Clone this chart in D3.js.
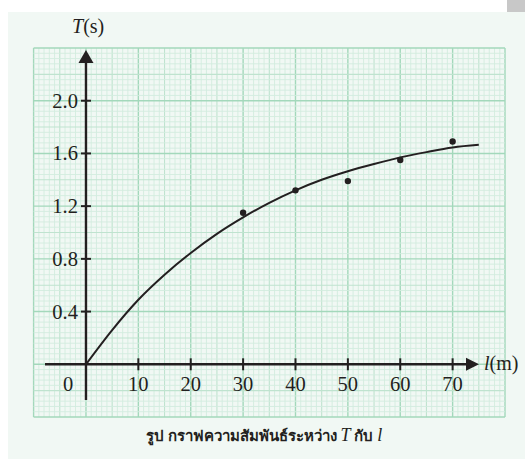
<!DOCTYPE html>
<html>
<head>
<meta charset="utf-8">
<script src="https://cdn.jsdelivr.net/npm/d3@7"></script>
<style>
  html, body { margin: 0; padding: 0; background: #fff; }
  svg { display: block; }
  .serif { font-family: 'Liberation Serif', 'Times New Roman', 'DejaVu Serif', serif; }
  .thai { font-family: 'Noto Sans', 'DejaVu Sans', sans-serif; }
</style>
</head>
<body>
<div id="chart"></div>
<script>
// measured points (l in m, T in s)
const lVals = [30, 40, 50, 60, 70];
const tVals = [1.15, 1.32, 1.39, 1.55, 1.69];

// hand drawn best fit curve
const curveL = [0, 5, 10, 15, 20, 25, 30, 35, 40, 45, 50, 55, 60, 65, 70, 75];
const curveT = [0, 0.26, 0.49, 0.68, 0.845, 0.99, 1.115, 1.225, 1.32, 1.40, 1.465, 1.52, 1.57, 1.61, 1.645, 1.665];

const xTicks = [10, 20, 30, 40, 50, 60, 70];
const yTicks = [0.4, 0.8, 1.2, 1.6, 2.0];

const width = 525, height = 459;
const ink = '#231f20';

const svg = d3.select('#chart').append('svg')
  .attr('width', width)
  .attr('height', height);

// panel
svg.append('rect')
  .attr('x', 8).attr('y', 12)
  .attr('width', width - 8).attr('height', height - 12)
  .attr('fill', '#f1f8f4');
svg.append('rect')
  .attr('x', 507).attr('y', 0)
  .attr('width', 18).attr('height', 12)
  .attr('fill', '#c8c8c8');

const x = d3.scaleLinear().domain([-10, 80]).range([33.6, 505]);
const y = d3.scaleLinear().domain([-0.4, 2.4]).range([417, 48]);

// graph paper
const grid = svg.append('g');
const xs = d3.range(-10, 80.001, 1);
const ys = d3.range(0, 71).map(i => -0.4 + i * 0.04);

function lineStyle(i) {
  if (i % 10 === 0) return ['#a3d8bb', 1.4];
  if (i % 5 === 0) return ['#bfe3cf', 1.1];
  return ['#d3ecdf', 0.9];
}

grid.selectAll('line.v')
  .data(xs)
  .enter().append('line')
    .attr('x1', d => x(d)).attr('x2', d => x(d))
    .attr('y1', y(-0.4)).attr('y2', y(2.4))
    .attr('stroke', (d, i) => lineStyle(i)[0])
    .attr('stroke-width', (d, i) => lineStyle(i)[1]);

grid.selectAll('line.h')
  .data(ys)
  .enter().append('line')
    .attr('y1', d => y(d)).attr('y2', d => y(d))
    .attr('x1', x(-10)).attr('x2', x(80))
    .attr('stroke', (d, i) => lineStyle(i)[0])
    .attr('stroke-width', (d, i) => lineStyle(i)[1]);

// axes
const axes = svg.append('g');
axes.append('line')
  .attr('x1', x(0)).attr('x2', x(0))
  .attr('y1', 400).attr('y2', 60)
  .attr('stroke', ink).attr('stroke-width', 2.4);
axes.append('line')
  .attr('x1', 45).attr('x2', 468)
  .attr('y1', y(0)).attr('y2', y(0))
  .attr('stroke', ink).attr('stroke-width', 2.4);

// arrow heads
const x0 = x(0), y0 = y(0);
axes.append('path')
  .attr('d', `M${x0},50 L${x0 - 7.5},63 L${x0 + 7.5},63 Z`)
  .attr('fill', ink);
axes.append('path')
  .attr('d', `M479,${y0} L466,${y0 - 6.5} L466,${y0 + 6.5} Z`)
  .attr('fill', ink);

// ticks
axes.selectAll('line.yt')
  .data(yTicks)
  .enter().append('line')
    .attr('x1', x0 - 5).attr('x2', x0 + 5)
    .attr('y1', d => y(d)).attr('y2', d => y(d))
    .attr('stroke', ink).attr('stroke-width', 2);
axes.selectAll('line.xt')
  .data(xTicks)
  .enter().append('line')
    .attr('x1', d => x(d)).attr('x2', d => x(d))
    .attr('y1', y0 - 6).attr('y2', y0 + 6)
    .attr('stroke', ink).attr('stroke-width', 2);

axes.selectAll('text.yl')
  .data(yTicks)
  .enter().append('text')
    .attr('class', 'serif')
    .attr('x', x0 - 8)
    .attr('y', d => y(d) + 7)
    .attr('text-anchor', 'end')
    .attr('font-size', 20.5)
    .attr('fill', ink)
    .text(d => d.toFixed(1));

axes.selectAll('text.xl')
  .data(xTicks)
  .enter().append('text')
    .attr('class', 'serif')
    .attr('x', d => x(d))
    .attr('y', y0 + 27)
    .attr('text-anchor', 'middle')
    .attr('font-size', 20.5)
    .attr('fill', ink)
    .text(d => d);

axes.append('text')
  .attr('class', 'serif')
  .attr('x', 68).attr('y', y0 + 27)
  .attr('text-anchor', 'middle')
  .attr('font-size', 20.5)
  .attr('fill', ink)
  .text('0');

// axis titles
const tTitle = axes.append('text')
  .attr('class', 'serif')
  .attr('x', 72).attr('y', 33)
  .attr('font-size', 20)
  .attr('fill', ink);
tTitle.append('tspan').attr('font-style', 'italic').text('T');
tTitle.append('tspan').text('(s)');

const lTitle = axes.append('text')
  .attr('class', 'serif')
  .attr('x', 484).attr('y', y0 + 6)
  .attr('font-size', 20)
  .attr('fill', ink);
lTitle.append('tspan').attr('font-style', 'italic').text('l');
lTitle.append('tspan').text('(m)');

// fitted curve
const line = d3.line()
  .x((d, i) => x(curveL[i]))
  .y((d, i) => y(curveT[i]))
  .curve(d3.curveMonotoneX);

svg.append('path')
  .datum(curveT)
  .attr('d', line)
  .attr('fill', 'none')
  .attr('stroke', ink)
  .attr('stroke-width', 2);

// data points
svg.append('g')
  .selectAll('circle')
  .data(lVals)
  .enter().append('circle')
    .attr('cx', d => x(d))
    .attr('cy', (d, i) => y(tVals[i]))
    .attr('r', 3.2)
    .attr('fill', ink);

// caption
const cap = svg.append('text')
  .attr('class', 'thai')
  .attr('x', 264).attr('y', 441)
  .attr('text-anchor', 'middle')
  .attr('font-size', 15)
  .attr('font-weight', 'bold')
  .attr('fill', ink);
cap.append('tspan').text('รูป กราฟความสัมพันธ์ระหว่าง ');
cap.append('tspan').attr('class', 'serif').attr('font-style', 'italic').attr('font-weight', 'normal').attr('font-size', 18).text('T');
cap.append('tspan').text(' กับ ');
cap.append('tspan').attr('class', 'serif').attr('font-style', 'italic').attr('font-weight', 'normal').attr('font-size', 18).text('l');
</script>
</body>
</html>
